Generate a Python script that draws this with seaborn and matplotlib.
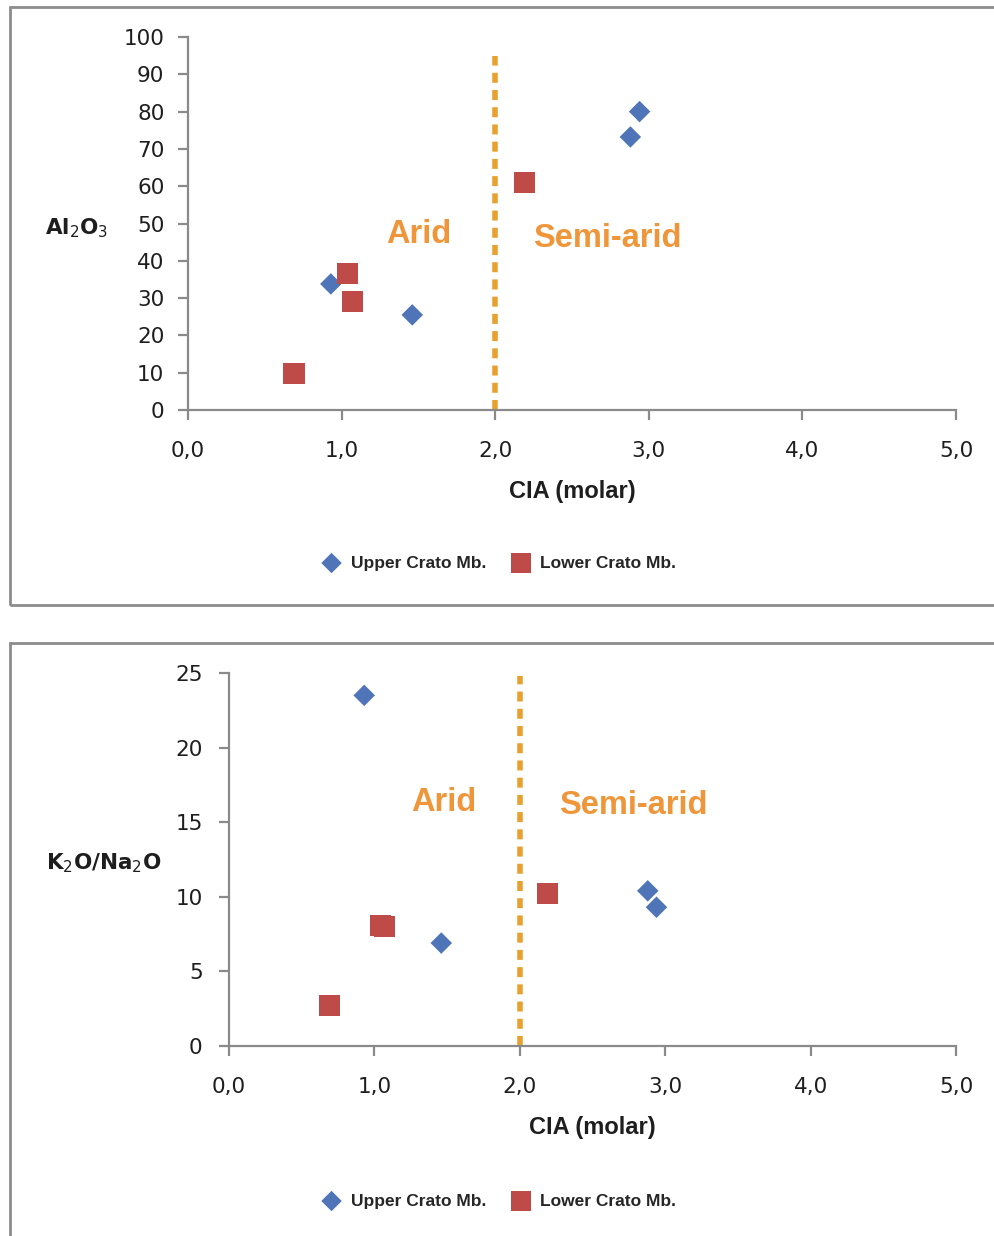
import numpy as np
import pandas as pd
import matplotlib.pyplot as plt
import seaborn as sns
from matplotlib.patches import Rectangle

sns.set_style("white")
plt.rcParams["font.family"] = ["DejaVu Sans"]

# Data
upper_cia = [0.93, 1.46, 2.88, 2.94]
upper_al2o3 = [33.8, 25.5, 73.2, 80.0]
upper_k2o_na2o = [23.5, 6.9, 10.4, 9.3]

lower_cia = [0.69, 1.04, 1.07, 2.19]
lower_al2o3 = [9.7, 36.7, 29.2, 60.9]
lower_k2o_na2o = [2.7, 8.1, 8.0, 10.2]

groups = ["Upper Crato Mb.", "Lower Crato Mb."]
x_ticks = [0, 1, 2, 3, 4, 5]
x_ticklabels = ["0,0", "1,0", "2,0", "3,0", "4,0", "5,0"]

df = pd.DataFrame(
    {
        "CIA": upper_cia + lower_cia,
        "Al2O3": upper_al2o3 + lower_al2o3,
        "K2O/Na2O": upper_k2o_na2o + lower_k2o_na2o,
        "Group": [groups[0]] * len(upper_cia) + [groups[1]] * len(lower_cia),
    }
)

palette = {groups[0]: "#4F74B8", groups[1]: "#BE4B48"}
markers = {groups[0]: "D", groups[1]: "s"}
sizes = {groups[0]: 120, groups[1]: 230}

axis_gray = "#8A8A8A"
txt_col = "#1E1E1E"
orange_txt = "#F0963A"
orange_line = "#E8A12E"
arial = ["Liberation Sans", "DejaVu Sans"]

fig = plt.figure(figsize=(9.95, 12.36), dpi=100)

# panel borders
fig.patches.append(Rectangle((10 / 995, 1 - 605 / 1236), 1.1, (605 - 7) / 1236,
                             transform=fig.transFigure, fill=False,
                             edgecolor="#8C8C8C", lw=2, zorder=0))
fig.patches.append(Rectangle((10 / 995, -0.1), 1.1, 0.1 + (1236 - 643) / 1236,
                             transform=fig.transFigure, fill=False,
                             edgecolor="#8C8C8C", lw=2, zorder=0))

ax1 = fig.add_axes([188 / 995, 1 - 410 / 1236, (956 - 188) / 995, 373 / 1236])
ax2 = fig.add_axes([229 / 995, 1 - 1046 / 1236, (956 - 229) / 995, 373 / 1236])

panels = [
    (ax1, "Al2O3", (0, 100), np.arange(0, 101, 10), "Al$_2$O$_3$", 95,
     (1.50, 47), (2.73, 46), (77, 228), 10),
    (ax2, "K2O/Na2O", (0, 25), np.arange(0, 26, 5), "K$_2$O/Na$_2$O", 24.8,
     (1.48, 16.3), (2.78, 16.1), (104, 863), 12),
]

for ax, col, ylim, yticks, ylab, ltop, arid_pos, semi_pos, ylab_px, ypad in panels:
    for g in groups:
        sub = df[df["Group"] == g]
        sns.scatterplot(data=sub, x="CIA", y=col, ax=ax, color=palette[g],
                        marker=markers[g], s=sizes[g], edgecolor="none",
                        label=g, legend=False, zorder=3)
    ax.plot([2, 2], [0, ltop], color=orange_line, lw=4,
            linestyle=(0, (1.8, 1.3)), zorder=2)
    ax.set_xlim(0, 5)
    ax.set_ylim(*ylim)
    ax.set_xticks(x_ticks)
    ax.set_xticklabels(x_ticklabels)
    ax.set_yticks(yticks)
    for s in ["top", "right"]:
        ax.spines[s].set_visible(False)
    for s in ["left", "bottom"]:
        ax.spines[s].set_color(axis_gray)
        ax.spines[s].set_linewidth(1.6)
    ax.tick_params(axis="both", direction="out", length=7, width=1.6,
                   bottom=True, left=True,
                   color=axis_gray, labelsize=15.5, labelcolor=txt_col)
    ax.tick_params(axis="x", pad=15)
    ax.tick_params(axis="y", pad=ypad)
    ax.set_xlabel("CIA (molar)", fontsize=17, fontweight="bold",
                  family=arial, labelpad=14, color=txt_col)
    ax.set_ylabel("")
    fig.text(ylab_px[0] / 995, 1 - ylab_px[1] / 1236, ylab, fontsize=15.5,
             fontweight="bold", color=txt_col, ha="center", va="center")
    ax.text(*arid_pos, "Arid", color=orange_txt, fontsize=23.5,
            fontweight="bold", family=arial, ha="center", va="center")
    ax.text(*semi_pos, "Semi-arid", color=orange_txt, fontsize=23.5,
            fontweight="bold", family=arial, ha="center", va="center")
    ax.patch.set_alpha(0)

handles, labels = ax1.get_legend_handles_labels()
for y in [1 - 563 / 1236, 1 - 1201 / 1236]:
    fig.legend(handles, labels, loc="center", bbox_to_anchor=(495 / 995, y),
               ncol=2, frameon=False, columnspacing=1.0,
               handletextpad=0.1, markerscale=0.95,
               prop={"family": arial, "weight": "bold", "size": 12.5})

plt.savefig("out.png", dpi=100)
plt.close()
